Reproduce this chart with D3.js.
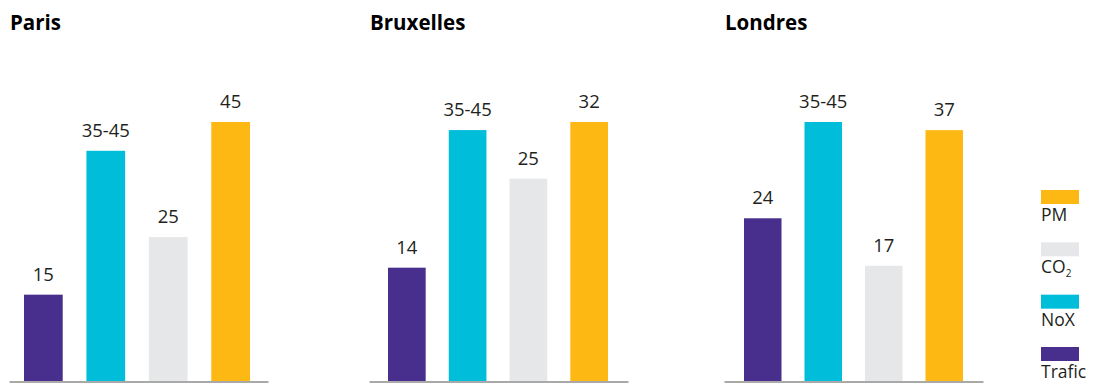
<!DOCTYPE html>
<html>
<head>
<meta charset="utf-8">
<script src="https://cdn.jsdelivr.net/npm/d3@7"></script>
<style>
  html, body { margin: 0; padding: 0; background: #fff; }
  svg { display: block; font-family: "Open Sans", "Noto Sans", sans-serif; }
</style>
</head>
<body>
<svg id="chart" width="1094" height="383"></svg>
<script>
// Pollutant categories, in bar order
const categories = ["Trafic", "NoX", "CO2", "PM"];
const colors = ["#482F8E", "#00BED9", "#E6E7E8", "#FDB813"];

// Cities
const cities = ["Paris", "Bruxelles", "Londres"];

// Bar heights per city (NoX bar drawn at the mid-range height shown)
const parisValues = [15, 40, 25, 45];
const bruxellesValues = [14, 31, 25, 32];
const londresValues = [24, 38.2, 17, 37];

// Value labels printed above each bar
const parisLabels = ["15", "35-45", "25", "45"];
const bruxellesLabels = ["14", "35-45", "25", "32"];
const londresLabels = ["24", "35-45", "17", "37"];

// Legend order (top to bottom)
const legendOrder = ["PM", "CO2", "NoX", "Trafic"];

const seriesValues = [parisValues, bruxellesValues, londresValues];
const seriesLabels = [parisLabels, bruxellesLabels, londresLabels];

// Panel geometry
const panelAxisX = [9, 369, 724];
const panelBarX = [[24, 250], [388, 608], [744, 963]];
const axisWidth = 259;
const baseline = 381;
const topY = 122;

const svg = d3.select("#chart");
const color = d3.scaleOrdinal().domain(categories).range(colors);

cities.forEach((city, i) => {
  const values = seriesValues[i];
  const labels = seriesLabels[i];
  const g = svg.append("g");

  const x = d3.scaleBand()
    .domain(categories)
    .range(panelBarX[i])
    .paddingInner(0.38)
    .paddingOuter(0);

  const y = d3.scaleLinear()
    .domain([0, d3.max(values)])
    .range([baseline, topY]);

  // City title
  g.append("text")
    .attr("x", panelAxisX[i] + 1)
    .attr("y", 30)
    .attr("font-size", 20.5)
    .attr("font-weight", 700)
    .attr("fill", "#000")
    .text(city);

  const rows = categories.map((c, k) => ({ cat: c, value: values[k], label: labels[k] }));

  g.selectAll("rect.bar")
    .data(rows)
    .join("rect")
    .attr("class", "bar")
    .attr("x", d => x(d.cat))
    .attr("width", x.bandwidth())
    .attr("y", d => y(d.value))
    .attr("height", d => baseline - y(d.value))
    .attr("fill", d => color(d.cat));

  g.selectAll("text.val")
    .data(rows)
    .join("text")
    .attr("class", "val")
    .attr("x", d => x(d.cat) + x.bandwidth() / 2)
    .attr("y", d => y(d.value) - 14)
    .attr("text-anchor", "middle")
    .attr("font-size", 18.5)
    .attr("fill", "#231F20")
    .text(d => d.label);

  // Baseline axis
  const axisScale = d3.scaleLinear().domain([0, 1]).range([panelAxisX[i], panelAxisX[i] + axisWidth]);
  const axis = g.append("g")
    .attr("transform", `translate(0,${baseline + 0.5})`)
    .call(d3.axisBottom(axisScale).ticks(0).tickSize(0).tickSizeOuter(0));
  axis.select(".domain").attr("stroke", "#8C8C8C").attr("stroke-width", 1.6);
  axis.selectAll(".tick").remove();
});

// Legend
const legendY = d3.scalePoint().domain(legendOrder).range([190, 347]);
const legend = svg.append("g").attr("transform", "translate(1041,0)");
legendOrder.forEach(name => {
  const y0 = legendY(name);
  legend.append("rect")
    .attr("x", 0)
    .attr("y", y0)
    .attr("width", 38)
    .attr("height", 14)
    .attr("fill", color(name));
  const t = legend.append("text")
    .attr("x", 0)
    .attr("y", y0 + 31)
    .attr("font-size", 17.5)
    .attr("fill", "#231F20");
  if (name === "CO2") {
    t.append("tspan").text("CO");
    t.append("tspan").attr("font-size", 10).attr("dy", 4).text("2");
  } else {
    t.text(name);
  }
});
</script>
</body>
</html>
